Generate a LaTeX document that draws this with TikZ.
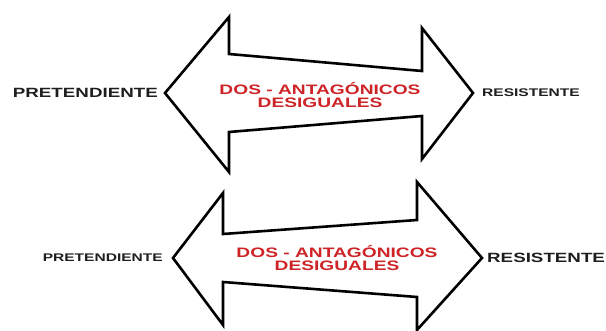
\documentclass[tikz,border=0pt]{standalone}
\usepackage{fontspec}
\setsansfont{Liberation Sans}
\usetikzlibrary{positioning}
\definecolor{rojoant}{RGB}{206,36,40}
\definecolor{grislbl}{RGB}{30,30,30}
\newcommand{\ancho}[1]{\scalebox{1.4}[1]{#1}}

\begin{document}
\begin{tikzpicture}[x=1pt,y=-1pt,
	flecha/.style={draw=black,line width=2.6pt,fill=white,line join=miter},
	lado/.style={inner sep=0pt,text=grislbl,font=\sffamily\bfseries},
	centro/.style={inner sep=0pt,text=rojoant,font=\sffamily\bfseries}]
\useasboundingbox (0,0) rectangle (606,331);

% flecha de arriba
\coordinate (puntaIzqA) at (165,93);
\coordinate (puntaDerA) at (473,93);
\draw[flecha] (puntaIzqA) -- (229,17) -- (229,54) -- (422,71) -- (422,28) -- (puntaDerA)
	-- (422,159) -- (422,116) -- (229,132) -- (229,172) -- cycle;
\node[lado, left=7pt of puntaIzqA] (pretA) {\fontsize{13.4}{14}\selectfont\ancho{PRETENDIENTE}};
\node[lado, right=9pt of puntaDerA] (resA) {\fontsize{11.1}{12}\selectfont\ancho{RESISTENTE}};
\node[centro] (dosA) at (320,96.5) {\fontsize{13.7}{12.5}\selectfont
	\ancho{\begin{tabular}{@{}c@{}}DOS - ANTAGÓNICOS\\DESIGUALES\end{tabular}}};

% flecha de abajo
\coordinate (puntaIzqB) at (173,258);
\coordinate (puntaDerB) at (482,258);
\draw[flecha] (puntaIzqB) -- (223,193) -- (223,234) -- (417,220) -- (417,182) -- (puntaDerB)
	-- (417,330) -- (417,297) -- (223,282) -- (223,325) -- cycle;
\node[lado, left=10pt of puntaIzqB] (pretB) {\fontsize{11.1}{12}\selectfont\ancho{PRETENDIENTE}};
\node[lado, right=5pt of puntaDerB] (resB) {\fontsize{13.4}{14}\selectfont\ancho{RESISTENTE}};
\node[centro] (dosB) at (337,259.5) {\fontsize{13.7}{12.5}\selectfont
	\ancho{\begin{tabular}{@{}c@{}}DOS - ANTAGÓNICOS\\DESIGUALES\end{tabular}}};
\end{tikzpicture}
\end{document}
